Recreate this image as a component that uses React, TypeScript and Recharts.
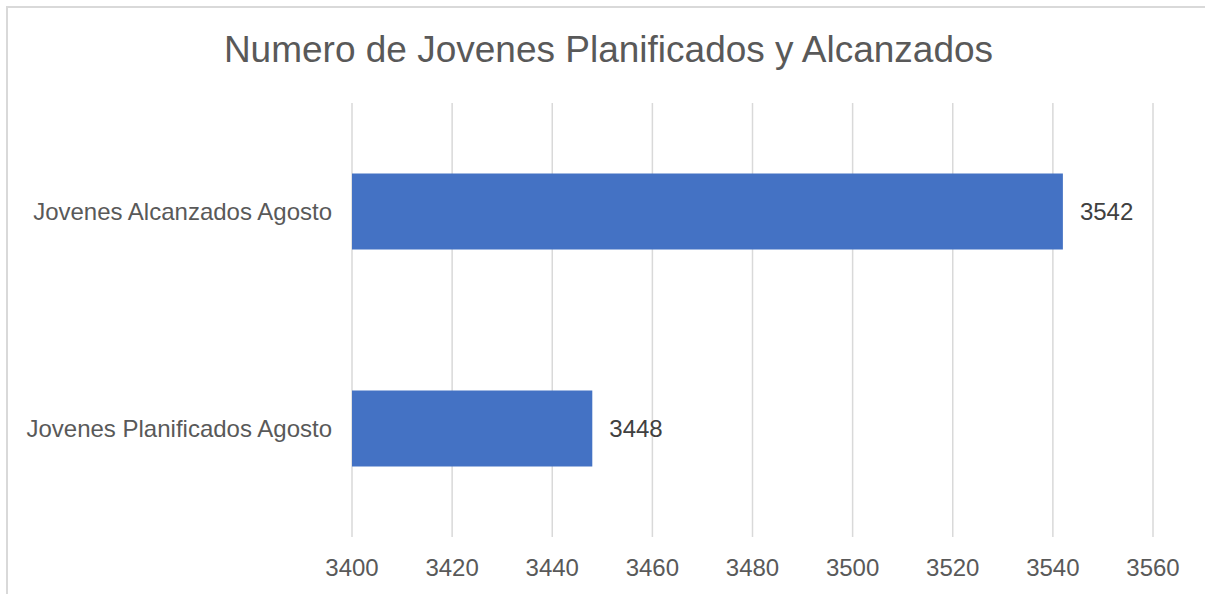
import React from 'react';
import { BarChart, Bar, XAxis, YAxis, CartesianGrid, LabelList } from 'recharts';

const categories = ['Jovenes Alcanzados Agosto', 'Jovenes Planificados Agosto'];
const values = [3542, 3448];
const xTicks = [3400, 3420, 3440, 3460, 3480, 3500, 3520, 3540, 3560];

const chartData = categories.map((name, i) => ({ name, value: values[i] }));

const font = '"Liberation Sans", Arial, sans-serif';

const App: React.FC = () => {
  return (
    <div
      style={{
        position: 'absolute',
        left: 0,
        top: 0,
        width: 1205,
        height: 594,
        overflow: 'hidden',
        background: '#fff',
        fontFamily: font,
      }}
    >
      <div
        style={{
          position: 'absolute',
          left: 6,
          top: 6,
          width: 1300,
          height: 700,
          border: '2px solid #d9d9d9',
          boxSizing: 'border-box',
        }}
      />
      <div
        style={{
          position: 'absolute',
          left: 0,
          top: 31,
          width: 1217,
          textAlign: 'center',
          fontSize: 37,
          lineHeight: '37px',
          color: '#595959',
          whiteSpace: 'nowrap',
        }}
      >
        Numero de Jovenes Planificados y Alcanzados
      </div>
      <div style={{ position: 'absolute', left: 0, top: 0 }}>
        <BarChart
          width={1205}
          height={594}
          data={chartData}
          layout="vertical"
          margin={{ top: 103, right: 52, bottom: 0, left: 0 }}
          barCategoryGap="32.5%"
        >
          <CartesianGrid horizontal={false} stroke="#d9d9d9" strokeWidth={1.5} />
          <XAxis
            type="number"
            domain={[3400, 3560]}
            ticks={xTicks}
            allowDataOverflow
            axisLine={false}
            tickLine={false}
            tickSize={0}
            tickMargin={22}
            height={57}
            tick={{ fill: '#595959', fontSize: 24, fontFamily: font }}
          />
          <YAxis
            type="category"
            dataKey="name"
            width={352}
            axisLine={false}
            tickLine={false}
            tickSize={0}
            tickMargin={20}
            tick={{ fill: '#595959', fontSize: 24, fontFamily: font }}
          />
          <Bar dataKey="value" fill="#4472C4" isAnimationActive={false}>
            <LabelList
              dataKey="value"
              position="right"
              offset={17}
              fill="#404040"
              fontSize={24}
              fontFamily={font}
            />
          </Bar>
        </BarChart>
      </div>
    </div>
  );
};

export default App;
